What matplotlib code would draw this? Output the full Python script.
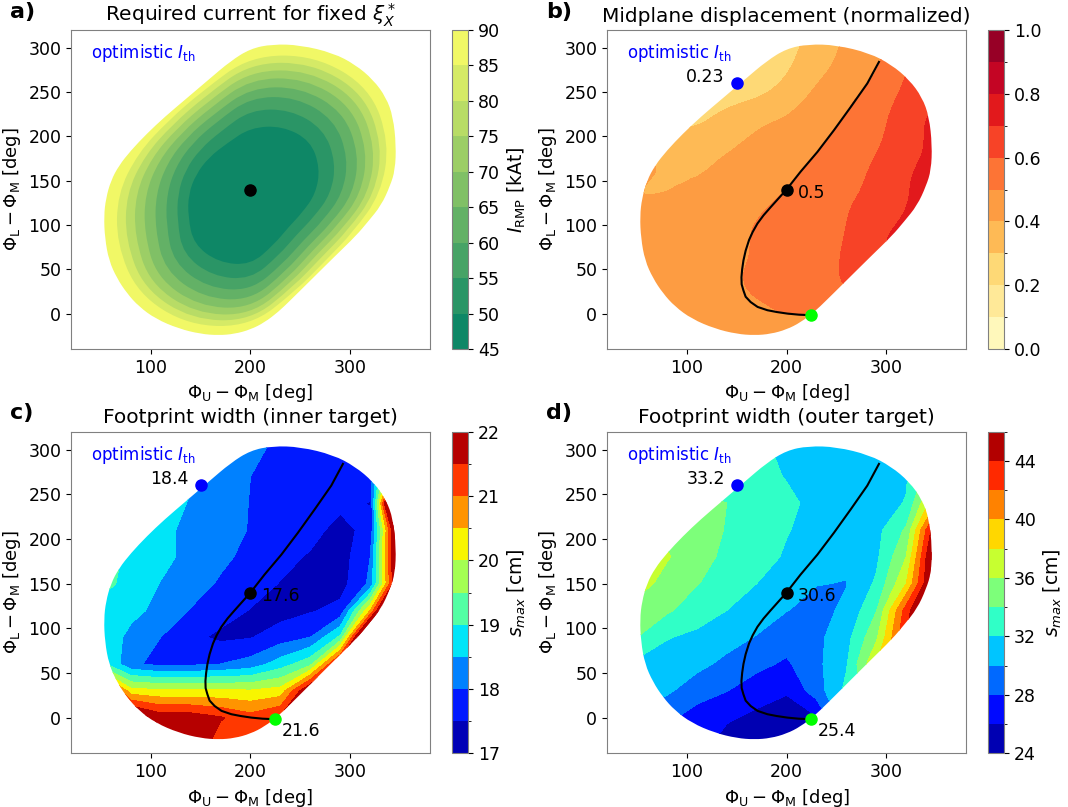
import numpy as np
import matplotlib.pyplot as plt
from matplotlib.path import Path
from matplotlib.patches import PathPatch
from matplotlib.colors import ListedColormap, BoundaryNorm
from matplotlib.cm import ScalarMappable
import matplotlib.tri as mtri

# ---- a) required current: contour radii read along 16 directions ----
a_center = (200, 135)
a_angles = np.arange(0, 360, 22.5)
a_levels = [50, 55, 60, 65, 70, 75, 80, 85]       # 90 kAt is the region outline
a_radii = np.array([
    [65.3, 80.6, 92.4, 102.9, 110.9, 118.4, 124.6, 130.7],
    [75.5, 92.7, 106.2, 117.9, 127.2, 135.9, 143.3, 150.9],
    [85.2, 103.8, 118.9, 131.4, 142, 151.8, 160.6, 169.5],
    [83.1, 103.3, 118.6, 130.6, 141.5, 151.2, 160.3, 169.2],
    [74.9, 95, 109.1, 120, 130.1, 139.1, 147.9, 156],
    [61.8, 76.9, 88.2, 97.2, 105.3, 112.5, 119.3, 125.9],
    [58.7, 71.5, 81.9, 90.5, 97.8, 104.6, 110.7, 116.8],
    [59, 70.7, 81.1, 90.6, 99.4, 107.3, 114.5, 121.8],
    [62.2, 73, 84, 94.9, 105.8, 115.5, 124.6, 133.5],
    [67.8, 79.5, 91.5, 103.4, 115.3, 125.8, 135.7, 145.4],
    [80.4, 95.8, 109.3, 121.7, 133.1, 142.7, 151.3, 159.9],
    [83.7, 100.4, 114.3, 126.5, 137.2, 145.9, 153.6, 161.1],
    [80.3, 96.7, 109.5, 120.6, 129.7, 137.1, 143.2, 149.2],
    [61.7, 74.7, 85, 93.7, 101.1, 107.5, 112.9, 118.4],
    [53.5, 65.2, 74.6, 82.4, 89.1, 95.2, 100.8, 106.4],
    [55.9, 68.6, 78.6, 87.2, 94.1, 100.5, 106, 111.6],
])

# ---- b)-d): values read on a regular grid ----
phi_u = np.array([50, 80, 110, 140, 170, 200, 230, 260, 290, 320, 350])
phi_l = np.array([-30, 0, 30, 60, 90, 120, 150, 180, 210, 240, 270, 310])

# normalized midplane displacement
disp = np.array([
    [0.40, 0.42, 0.44, 0.45, 0.46, 0.47, 0.49, 0.52, 0.56, 0.62, 0.68],
    [0.40, 0.43, 0.45, 0.46, 0.48, 0.50, 0.51, 0.56, 0.61, 0.67, 0.72],
    [0.41, 0.43, 0.45, 0.48, 0.51, 0.54, 0.57, 0.60, 0.64, 0.69, 0.74],
    [0.43, 0.44, 0.455, 0.48, 0.51, 0.545, 0.575, 0.61, 0.67, 0.73, 0.78],
    [0.435, 0.445, 0.46, 0.48, 0.505, 0.538, 0.571, 0.603, 0.67, 0.73, 0.78],
    [0.405, 0.42, 0.45, 0.47, 0.49, 0.52, 0.556, 0.593, 0.64, 0.70, 0.76],
    [0.41, 0.395, 0.405, 0.43, 0.465, 0.49, 0.53, 0.573, 0.622, 0.689, 0.75],
    [0.40, 0.38, 0.37, 0.40, 0.44, 0.47, 0.50, 0.55, 0.60, 0.67, 0.72],
    [0.30, 0.30, 0.305, 0.34, 0.39, 0.43, 0.47, 0.515, 0.575, 0.655, 0.73],
    [0.25, 0.25, 0.25, 0.28, 0.31, 0.36, 0.43, 0.485, 0.55, 0.63, 0.70],
    [0.18, 0.18, 0.19, 0.20, 0.24, 0.30, 0.38, 0.44, 0.505, 0.60, 0.68],
    [0.16, 0.16, 0.17, 0.19, 0.22, 0.26, 0.34, 0.41, 0.47, 0.55, 0.63],
])

# footprint width, inner target [cm]
s_inner = np.array([
    [22.5, 22.5, 22.3, 22.0, 21.2, 20.9, 21.5, 22.3, 22.5, 22.5, 22.5],
    [22.5, 22.5, 21.8, 21.8, 21.55, 21.2, 21.6, 22.3, 22.5, 22.5, 22.5],
    [22.5, 20.2, 20.1, 20.1, 20.1, 20.05, 20.2, 22.2, 22.5, 22.5, 22.5],
    [19.2, 18.1, 17.85, 17.9, 18.0, 18.2, 18.75, 19.35, 22.0, 22.5, 22.5],
    [18.9, 18.35, 18.0, 17.62, 17.4, 17.47, 17.75, 18.0, 19.1, 24, 24],
    [18.8, 18.65, 18.35, 17.97, 17.7, 17.48, 17.3, 17.45, 17.65, 20.5, 25],
    [19.2, 18.8, 18.48, 18.25, 17.93, 17.7, 17.48, 17.25, 17.3, 18.1, 22.6],
    [19.3, 18.85, 18.65, 18.35, 18.12, 17.85, 17.65, 17.45, 17.25, 18.0, 23],
    [19.0, 18.9, 18.65, 18.35, 18.2, 17.97, 17.8, 17.65, 17.35, 17.65, 23],
    [19.0, 18.9, 18.8, 18.45, 18.25, 17.98, 17.8, 17.7, 17.6, 17.48, 26],
    [19.0, 18.9, 18.8, 18.6, 18.2, 18.0, 17.8, 17.75, 17.7, 17.8, 22],
    [19.0, 18.9, 18.7, 18.5, 18.3, 18.1, 17.95, 17.85, 17.8, 17.9, 19],
])

# footprint width, outer target [cm]
s_outer = np.array([
    [29, 28, 27, 25, 24.6, 24.8, 26, 29, 32, 35, 38],
    [29.5, 28.5, 27.0, 26.3, 25.5, 25.0, 25.8, 32, 36, 40, 44],
    [31, 30.3, 29, 28.05, 27, 26.2, 29, 32.5, 36.5, 41, 45],
    [31.5, 31.2, 30.5, 29.55, 28.5, 27.7, 29.5, 31.8, 38, 44, 48],
    [34, 32.1, 31.6, 30.7, 29.9, 28.9, 29.5, 31.3, 35.6, 44, 48],
    [35, 34.3, 32.9, 32.0, 31, 30.05, 29.5, 30.3, 33.9, 43, 50],
    [37, 35.2, 34.1, 33.0, 32.0, 31.2, 30.05, 29.95, 32.3, 38, 48],
    [37.5, 36.2, 34.7, 33.6, 32.7, 31.8, 31.2, 30.3, 31.6, 36, 48],
    [36, 35.5, 34.8, 33.9, 33, 32.1, 31.4, 31.1, 31.4, 34.3, 46],
    [35, 35, 34.5, 34.0, 33, 32.4, 31.5, 31.2, 31.3, 32.1, 40],
    [34.5, 34, 33.5, 33.2, 32.6, 31.9, 31.5, 31.3, 31.3, 31.8, 36],
    [34, 33.8, 33.5, 33, 32.2, 31.7, 31.5, 31.3, 31.3, 31.5, 33],
])

# outline of the accessible region (I_RMP <= 90 kAt)
edge_u = [222, 250, 283, 305, 323, 336, 343, 346, 345, 340, 331, 318, 306, 284,
          258, 240, 228, 214, 200, 184, 168, 150, 128, 105, 88, 76, 66, 58, 54,
          53, 55, 60, 68, 80, 96, 114, 135, 158, 180, 200]
edge_l = [304, 303, 294, 281, 264, 244, 222, 190, 162, 144, 122, 104, 88, 64,
          35, 15, 2, -10, -18, -23, -24.5, -23, -17, -6, 8, 23, 40, 60, 85,
          110, 130, 150, 167, 184, 203, 222, 242, 264, 285, 299]

# path of constant displacement through the reference point
path_u = [225.9, 212, 200.8, 190, 180.8, 171, 164, 159, 156.8, 155, 154.8, 155.5,
          156.8, 159, 162.4, 166, 170.8, 177, 184, 192, 200, 214, 231, 247.6,
          264.3, 281, 292.7]
path_l = [-1.9, -1.2, 0, 1.8, 3.8, 7.5, 13, 19, 26, 33, 41, 50, 60, 71, 83, 92,
          101.6, 111, 120, 130, 140, 160, 182.5, 207, 233, 259.7, 284]

ref_pt = (200, 140)
opt_pt = (150, 260)
end_pt = (225, -2)

fig = plt.figure(figsize=(10.68, 8.07), dpi=100)

pos_top, pos_bot = 0.5675, 0.0665
h_top, h_bot = 0.3953, 0.3985
ax_w, cb_w = 0.3361, 0.0150
x_left, x_right = 0.0665, 0.5684
cb_left, cb_right = 0.4232, 0.9251


def smooth_closed(xs, ys):
    """Closed path of quadratic curves through the midpoints of the vertices."""
    pts = np.column_stack([xs, ys])
    mids = (pts + np.roll(pts, -1, axis=0)) / 2
    verts = [mids[-1]]
    codes = [Path.MOVETO]
    for p, m in zip(pts, mids):
        verts += [p, m]
        codes += [Path.CURVE3, Path.CURVE3]
    return Path(verts, codes)


outline = smooth_closed(edge_u, edge_l)

U, L = np.meshgrid(phi_u, phi_l)
grid_tri = mtri.Triangulation(U.ravel(), L.ravel())


def band_colors(cmap_name, n):
    cmap = plt.get_cmap(cmap_name)
    return [cmap((i + 0.5) / n) for i in range(n)]


def style_axes(ax, cax, levels, cols, ticks, fmt, cbar_label):
    sm = ScalarMappable(norm=BoundaryNorm(levels, len(cols)), cmap=ListedColormap(cols))
    cb = fig.colorbar(sm, cax=cax, ticks=ticks, format=fmt)
    cb.ax.tick_params(labelsize=12.5)
    cb.outline.set_edgecolor('0.5')
    if cbar_label:
        cb.set_label(cbar_label, fontsize=13.5)
    ax.set_xlim(20, 380)
    ax.set_ylim(-40, 320)
    ax.set_xticks([100, 200, 300])
    ax.set_yticks(range(0, 301, 50))
    ax.tick_params(labelsize=12.5)
    for sp in ax.spines.values():
        sp.set_edgecolor('0.5')
    ax.set_xlabel(r'$\Phi_{\rm U}-\Phi_{\rm M}$ [deg]', fontsize=13)
    ax.set_ylabel(r'$\Phi_{\rm L}-\Phi_{\rm M}$ [deg]', fontsize=13)
    ax.text(40, 294, r'optimistic $I_{\rm th}$', color='blue', fontsize=12,
            va='center', ha='left')


def draw_field(ax, cax, z, levels, cmap_name, ticks, fmt, cbar_label, smooth):
    n = len(levels) - 1
    cols = band_colors(cmap_name, n)
    all_cols = [cols[0]] + cols + [cols[-1]]
    if smooth:
        tri_f, z_f = mtri.UniformTriRefiner(grid_tri).refine_field(z.ravel(), subdiv=3)
        cs = ax.tricontourf(tri_f, z_f, levels=levels, colors=all_cols, extend='both')
    else:
        cs = ax.contourf(phi_u, phi_l, z, levels=levels, colors=all_cols,
                         extend='both')
    cs.set_clip_path(PathPatch(outline, transform=ax.transData))
    style_axes(ax, cax, levels, cols, ticks, fmt, cbar_label)


def add_path(ax, labels):
    ax.plot(path_u, path_l, color='black', lw=1.5)
    ax.plot(*opt_pt, 'o', color='blue', ms=8)
    ax.plot(*ref_pt, 'o', color='black', ms=8)
    ax.plot(*end_pt, 'o', color='lime', ms=8)
    ax.text(138, 267, labels[0], fontsize=12.5, ha='right', va='center')
    ax.text(211, 136, labels[1], fontsize=12.5, ha='left', va='center')
    if labels[2]:
        ax.text(231, -15, labels[2], fontsize=12.5, ha='left', va='center')


# a) required current: nested filled contour curves, outermost first
ax_a = fig.add_axes([x_left, pos_top, ax_w, h_top])
cax_a = fig.add_axes([cb_left, pos_top, cb_w, h_top])
a_bounds = np.arange(45, 91, 5)
a_cols = band_colors('summer', len(a_bounds) - 1)
ax_a.add_patch(PathPatch(outline, facecolor=a_cols[-1], edgecolor='none'))
th = np.radians(a_angles)
for j in range(len(a_levels) - 1, -1, -1):
    ring = smooth_closed(a_center[0] + a_radii[:, j] * np.cos(th),
                         a_center[1] + a_radii[:, j] * np.sin(th))
    ax_a.add_patch(PathPatch(ring, facecolor=a_cols[j], edgecolor='none'))
style_axes(ax_a, cax_a, a_bounds, a_cols, a_bounds, '%d', r'$I_{\rm RMP}$ [kAt]')
ax_a.plot(*ref_pt, 'o', color='black', ms=8)
ax_a.set_title(r'Required current for fixed $\xi_X^*$', fontsize=14.5)

# b) midplane displacement
ax_b = fig.add_axes([x_right, pos_top, ax_w, h_top])
cax_b = fig.add_axes([cb_right, pos_top, cb_w, h_top])
draw_field(ax_b, cax_b, disp, np.linspace(0, 1, 11), 'YlOrRd',
           np.linspace(0, 1, 6), '%.1f', None, True)
add_path(ax_b, ['0.23', '0.5', None])
ax_b.set_title('Midplane displacement (normalized)', fontsize=14.5)

# c) inner target footprint
ax_c = fig.add_axes([x_left, pos_bot, ax_w, h_bot])
cax_c = fig.add_axes([cb_left, pos_bot, cb_w, h_bot])
draw_field(ax_c, cax_c, s_inner, np.linspace(17, 22, 11), 'jet',
           np.arange(17, 23, 1), '%d', r'$s_{max}$ [cm]', False)
add_path(ax_c, ['18.4', '17.6', '21.6'])
ax_c.set_title('Footprint width (inner target)', fontsize=14.5)

# d) outer target footprint
ax_d = fig.add_axes([x_right, pos_bot, ax_w, h_bot])
cax_d = fig.add_axes([cb_right, pos_bot, cb_w, h_bot])
draw_field(ax_d, cax_d, s_outer, np.arange(24, 47, 2), 'jet',
           np.arange(24, 45, 4), '%d', r'$s_{max}$ [cm]', False)
add_path(ax_d, ['33.2', '30.6', '25.4'])
ax_d.set_title('Footprint width (outer target)', fontsize=14.5)

for lab, x, y in [('a)', 0.009, 0.997), ('b)', 0.511, 0.997),
                  ('c)', 0.009, 0.500), ('d)', 0.511, 0.500)]:
    fig.text(x, y, lab, fontsize=16, fontweight='bold', va='top', ha='left')

fig.savefig('out.png', dpi=100)
